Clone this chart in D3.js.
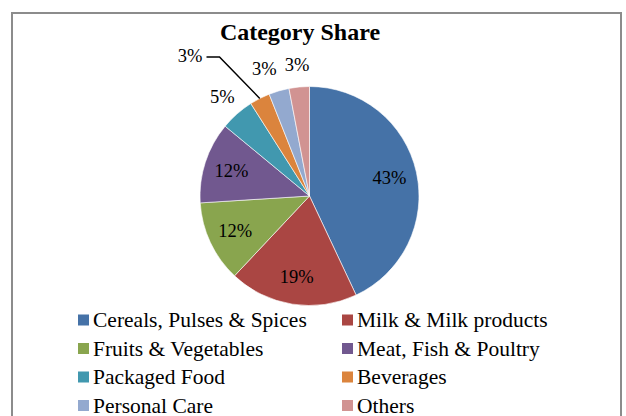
<!DOCTYPE html>
<html>
<head>
<meta charset="utf-8">
<script src="https://cdn.jsdelivr.net/npm/d3@7"></script>
<style>
  body { margin: 0; background: #fff; }
  text { font-family: "Liberation Serif", "Times New Roman", serif; fill: #000; }
</style>
</head>
<body>
<div id="chart"></div>
<script>
// category names and shares (%)
let categories = ["Cereals, Pulses & Spices", "Milk & Milk products", "Fruits & Vegetables",
  "Meat, Fish & Poultry", "Packaged Food", "Beverages", "Personal Care", "Others"]
let shares = [43, 19, 12, 12, 5, 3, 3, 3]
let colors = ["#4572A7", "#AA4643", "#89A54E", "#71588F", "#4198AF", "#DB843D", "#93A9CF", "#D19392"]

let width = 626, height = 416
let cx = 309.5, cy = 196, R = 109.5

let data = categories.map((c, i) => ({name: c, value: shares[i], color: colors[i], i: i}))

let svg = d3.select("#chart").append("svg")
    .attr("width", width)
    .attr("height", height)

// chart border
svg.append("rect")
  .attr("x", 12).attr("y", 13)
  .attr("width", 609).attr("height", 430)
  .attr("fill", "none")
  .attr("stroke", "#8c8c8c")
  .attr("stroke-width", 2)

svg.append("text")
  .attr("x", 300).attr("y", 40)
  .attr("text-anchor", "middle")
  .style("font-size", "24px")
  .style("font-weight", "bold")
  .text("Category Share")

let pie = d3.pie().value(d => d.value).sort(null)
let arc = d3.arc().innerRadius(0).outerRadius(R)
let arcs = pie(data)

let g = svg.append("g").attr("transform", "translate(" + cx + "," + cy + ")")

g.selectAll("path")
  .data(arcs)
  .enter().append("path")
  .attr("d", arc)
  .attr("fill", d => d.data.color)
  .attr("stroke", "#fff")
  .attr("stroke-width", 0.6)

let mid = d => (d.startAngle + d.endAngle) / 2
let at = (a, r) => [Math.sin(a) * r, -Math.cos(a) * r]
let fs = 18.5

// labels: big slices inside
arcs.filter(d => d.data.value >= 10).forEach(d => {
  let p = at(mid(d), 82)
  g.append("text").attr("x", p[0]).attr("y", p[1] + 6)
    .attr("text-anchor", "middle").style("font-size", fs + "px").text(d.data.value + "%")
})

// small slices outside, pushed left so they do not overlap (last slice first)
let outside = arcs.filter(d => d.data.value < 10 && d.data.name !== "Beverages").reverse()
let leftEdge = Infinity
outside.forEach(d => {
  let p = at(mid(d), 132)
  let t = g.append("text").attr("y", p[1] + 6)
    .attr("text-anchor", "middle").style("font-size", fs + "px").text(d.data.value + "%")
  let w = t.node().getComputedTextLength()
  let x = Math.min(p[0], leftEdge - 8 - w / 2)
  t.attr("x", x)
  leftEdge = x - w / 2
})

// Beverages label moved up-left with a leader line
arcs.filter(d => d.data.name === "Beverages").forEach(d => {
  let p0 = at(mid(d), R)
  let elbow = [-90, -139]
  g.append("polyline")
    .attr("points", [p0, elbow, [elbow[0] - 13, elbow[1]]].map(p => p.join(",")).join(" "))
    .attr("fill", "none").attr("stroke", "#000").attr("stroke-width", 1.5)
  g.append("text").attr("x", elbow[0] - 17).attr("y", elbow[1] + 5)
    .attr("text-anchor", "end").style("font-size", fs + "px").text(d.data.value + "%")
})

// legend, two columns
let legend = svg.append("g")
let colX = [78, 342], row0 = 327, rowH = 28.5
data.forEach((d, i) => {
  let x = colX[i % 2], y = row0 + Math.floor(i / 2) * rowH
  legend.append("rect").attr("x", x).attr("y", y - 12.5)
    .attr("width", 11).attr("height", 11).attr("fill", d.color)
  legend.append("text").attr("x", x + 15).attr("y", y)
    .style("font-size", "21.5px").text(d.name)
})
</script>
</body>
</html>
